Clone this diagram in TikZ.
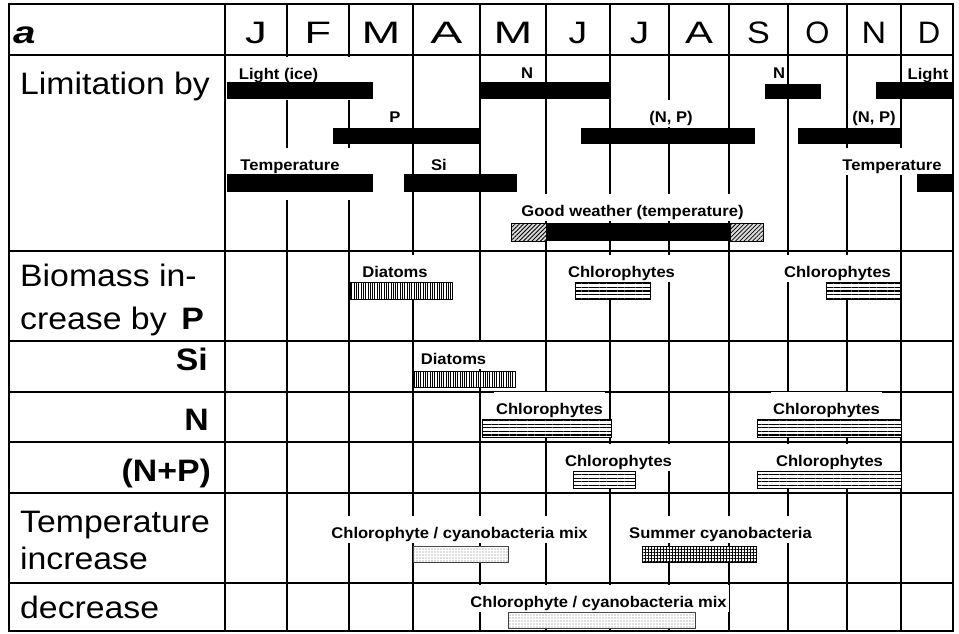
\documentclass[tikz,border=0pt]{standalone}
\usepackage{fontspec}
\setmainfont{Liberation Sans}
\usetikzlibrary{patterns.meta}
\newcommand{\bx}[1]{\scalebox{1.09}[1]{#1}}
\newcommand{\sx}[1]{\scalebox{1.07}[1]{#1}}
\newcommand{\mx}[2]{\scalebox{#1}[1]{#2}}
\begin{document}
\begin{tikzpicture}[x=1pt,y=-1pt,
  gridline/.style={line width=1.8pt},
  border/.style={line width=2.8pt},
  big/.style={font=\fontsize{31}{36}\selectfont, inner sep=0pt},
  month/.style={font=\fontsize{31}{36}\selectfont, inner sep=0pt, anchor=base},
  lab/.style={font=\fontsize{15.5}{18}\selectfont\bfseries, fill=white, inner xsep=2pt, inner ysep=0pt, text height=22pt, text depth=5pt, anchor=base},
  whitebox/.style={fill=white},
  blackbar/.style={fill=black},
  hatchbar/.style={fill=gray!30, draw=black, line width=0.7pt, postaction={pattern={Lines[angle=45,distance=3pt,line width=0.8pt]}}},
  vbar/.style={fill=white, draw=black, line width=0.8pt, postaction={pattern={Lines[angle=90,distance=2.3pt,line width=1pt]}}},
  hbar/.style={fill=white, draw=black, line width=0.9pt, postaction={pattern={Lines[angle=0,distance=3.6pt,line width=1.3pt]}}},
  dotbar/.style={fill=white, draw=black!75, line width=0.9pt, postaction={pattern={Dots[distance=3pt,radius=0.55pt]}, pattern color=black!55}},
  gridbar/.style={fill=white, draw=black, line width=0.8pt, postaction={pattern={Hatch[distance=3pt,line width=0.8pt]}}}
]
\useasboundingbox (0,0) rectangle (959,633);
% grid
\foreach \x in {225,287,349,413,480,546,610,669,729,788,847,901}
  \draw[gridline] (\x,4) -- (\x,631);
\foreach \y in {55,251,341,392,442,493,583}
  \draw[gridline] (9,\y) -- (953,\y);

% header
\node[big, anchor=base west] (ha) at (13,43) {\mx{1.3}{\bfseries\itshape a}};
\node[month] (m1) at (256,43) {\mx{1.4}{J}};
\node[month] (m2) at (318,43) {\mx{1.4}{F}};
\node[month] (m3) at (381,43) {\mx{1.5}{M}};
\node[month] (m4) at (446.5,43) {\mx{1.55}{A}};
\node[month] (m5) at (513,43) {\mx{1.5}{M}};
\node[month] (m6) at (578,43) {\mx{1.2}{J}};
\node[month] (m7) at (639.5,43) {\mx{1.25}{J}};
\node[month] (m8) at (699,43) {\mx{1.35}{A}};
\node[month] (m9) at (758.5,43) {\mx{1.1}{S}};
\node[month] (m10) at (817.5,43) {\mx{1.0}{O}};
\node[month] (m11) at (874,43) {\mx{1.1}{N}};
\node[month] (m12) at (929,43) {\mx{1.0}{D}};

% row labels
\node[big, anchor=base west] (r1) at (20,94) {\bx{Limitation by}};
\node[big, anchor=base west] (r2a) at (20,286) {\bx{Biomass in-}};
\node[big, anchor=base west] (r2b) at (20,329) {\bx{crease by}};
\node[big, anchor=base east] (r2c) at (204,329) {\bx{\bfseries P}};
\node[big, anchor=base east] (r3) at (208,370) {\bx{\bfseries Si}};
\node[big, anchor=base east] (r4) at (209,430) {\bx{\bfseries N}};
\node[big, anchor=base east] (r5) at (211,481) {\bx{\bfseries (N+P)}};
\node[big, anchor=base west] (r6a) at (20,532) {\bx{Temperature}};
\node[big, anchor=base west] (r6b) at (20,569) {\bx{increase}};
\node[big, anchor=base west] (r7) at (20,618) {\bx{decrease}};

% limitation section
\path[whitebox] (226,57) rectangle (374,100);
\path[whitebox] (226,148) rectangle (374,200);
\node[lab] (lLight) at (278.5,79) {\sx{Light (ice)}};
\node[lab] (lP) at (395,122) {\sx{P}};
\node[lab] (lTemp) at (290,170) {\sx{Temperature}};
\node[lab] (lSi) at (439,170) {\sx{Si}};
\node[lab] (lN) at (527,78) {\sx{N}};
\node[lab] (lN2) at (779,78) {\sx{N}};
\node[lab] (lLight2) at (928,79) {\sx{Light}};
\node[lab] (lNP) at (671,122) {\sx{(N, P)}};
\node[lab] (lNP2) at (874,122) {\sx{(N, P)}};
\node[lab] (lTemp2) at (892,170) {\sx{Temperature}};
\node[lab] (lGood) at (632.5,216) {\sx{Good weather (temperature)}};

\path[blackbar] (227,82) rectangle (373,99);
\path[blackbar] (333,128) rectangle (479,144);
\path[blackbar] (227,174) rectangle (373,192);
\path[blackbar] (404,174) rectangle (517,192);
\path[blackbar] (481,82) rectangle (610,99);
\path[blackbar] (765,84) rectangle (821,99);
\path[blackbar] (876,82) rectangle (953,99);
\path[blackbar] (581,128) rectangle (755,144);
\path[blackbar] (798,128) rectangle (902,144);
\path[blackbar] (917,174) rectangle (953,192);
\path[hatchbar] (511,223) rectangle (546,241);
\path[hatchbar] (730,223) rectangle (763,241);
\path[blackbar] (546,223) rectangle (730,241);

% biomass section
\node[lab] (bD1) at (395,277) {\sx{Diatoms}};
\node[lab] (bC1) at (621.5,277) {\sx{Chlorophytes}};
\node[lab] (bC2) at (837.5,277) {\sx{Chlorophytes}};
\node[lab] (bD2) at (453.5,364) {\sx{Diatoms}};
\node[lab] (bC3) at (549.5,414) {\sx{Chlorophytes}};
\node[lab] (bC4) at (826.5,414) {\sx{Chlorophytes}};
\node[lab] (bC5) at (618.5,466) {\sx{Chlorophytes}};
\node[lab] (bC6) at (829.5,466) {\sx{Chlorophytes}};
\node[lab] (bM1) at (459.5,538) {\sx{Chlorophyte / cyanobacteria mix}};
\node[lab] (bS) at (720.5,538) {\sx{Summer cyanobacteria}};
\node[lab] (bM2) at (598.5,607) {\sx{Chlorophyte / cyanobacteria mix}};

\path[vbar] (350,282) rectangle (452,299);
\path[hbar] (575,282) rectangle (650,299);
\path[hbar] (826,282) rectangle (900,299);
\path[vbar] (413,371) rectangle (515,387);
\path[hbar] (482,419) rectangle (611,437);
\path[hbar] (757,419) rectangle (901,437);
\path[hbar] (573,471) rectangle (635,488);
\path[hbar] (757,471) rectangle (901,488);
\path[dotbar] (413,546) rectangle (508,562);
\path[gridbar] (642,546) rectangle (756,562);
\path[dotbar] (508,612) rectangle (695,628);

% outer border
\draw[border] (9,4) rectangle (953,631);
\end{tikzpicture}
\end{document}
